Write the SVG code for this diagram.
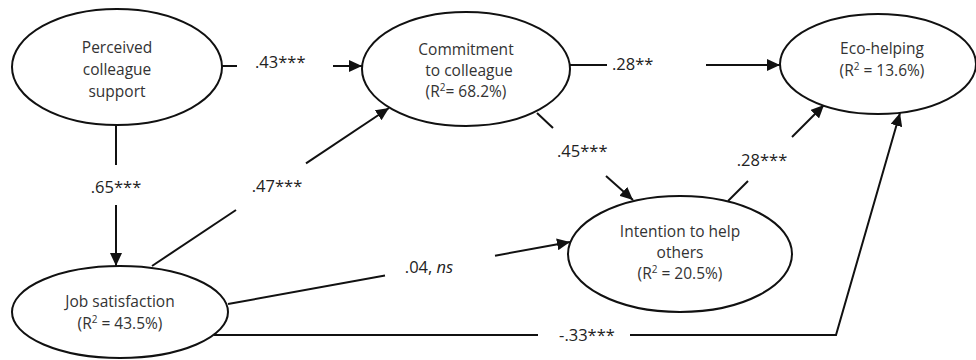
<svg xmlns="http://www.w3.org/2000/svg" width="976" height="360" viewBox="0 0 976 360">
<defs>
<marker id="arr" markerUnits="userSpaceOnUse" markerWidth="14" markerHeight="12" refX="13" refY="6" orient="auto">
<path d="M0,0 L13,6 L0,12 z" fill="#111"/>
</marker>
<style>
.node ellipse{fill:#fff;stroke:#111;stroke-width:2}
.node text{font-family:"Open Sans","Liberation Sans",sans-serif;font-size:15.5px;fill:#333;text-anchor:middle}
.sup{font-size:10px}
#edges line,#edges polyline{stroke:#111;stroke-width:2;fill:none}
.lbl{font-family:"Open Sans","Liberation Sans",sans-serif;font-size:16.5px;fill:#222}
</style>
</defs>
<rect width="976" height="360" fill="#fff"/>
<g id="edges">
<line x1="222" y1="66" x2="237" y2="66"/>
<line x1="333" y1="66" x2="362" y2="66" marker-end="url(#arr)"/>
<line x1="570" y1="65" x2="607" y2="65"/>
<line x1="706" y1="65" x2="780" y2="65" marker-end="url(#arr)"/>
<line x1="116" y1="126" x2="116" y2="165"/>
<line x1="116" y1="205" x2="116" y2="266" marker-end="url(#arr)"/>
<line x1="152" y1="266" x2="236" y2="210"/>
<line x1="306" y1="163.3" x2="389" y2="108" marker-end="url(#arr)"/>
<line x1="537" y1="113" x2="553" y2="128"/>
<line x1="606" y1="176" x2="633" y2="200" marker-end="url(#arr)"/>
<line x1="728" y1="201" x2="748" y2="181"/>
<line x1="792" y1="137" x2="824" y2="105" marker-end="url(#arr)"/>
<line x1="228" y1="304" x2="385" y2="275.6"/>
<line x1="495" y1="255.7" x2="570" y2="242" marker-end="url(#arr)"/>
<line x1="214" y1="335" x2="538" y2="335"/>
<polyline points="630,335 836,335 900,113" marker-end="url(#arr)"/>
<text class="lbl" x="255" y="68">.43***</text>
<text class="lbl" x="612" y="70">.28**</text>
<text class="lbl" x="116" y="193" text-anchor="middle">.65***</text>
<text class="lbl" x="277" y="192" text-anchor="middle">.47***</text>
<text class="lbl" x="557" y="157">.45***</text>
<text class="lbl" x="762" y="166" text-anchor="middle">.28***</text>
<text class="lbl" x="429" y="273" text-anchor="middle">.04, <tspan font-style="italic">ns</tspan></text>
<text class="lbl" x="587" y="341" text-anchor="middle">-.33***</text>
</g>
<g id="n1" class="node">
<ellipse cx="117" cy="67" rx="105" ry="58"/>
<text x="117" y="53">Perceived</text>
<text x="117" y="75">colleague</text>
<text x="117" y="97">support</text>
</g>
<g id="n2" class="node">
<ellipse cx="466" cy="69" rx="104" ry="57"/>
<text x="466" y="55">Commitment</text>
<text x="469" y="76">to colleague</text>
<text x="466" y="97">(R<tspan class="sup" dy="-6">2</tspan><tspan dy="6">= 68.2%)</tspan></text>
</g>
<g id="n3" class="node">
<ellipse cx="878" cy="64" rx="98" ry="50"/>
<text x="882" y="54">Eco-helping</text>
<text x="882" y="76">(R<tspan class="sup" dy="-6">2</tspan><tspan dy="6"> = 13.6%)</tspan></text>
</g>
<g id="n4" class="node">
<ellipse cx="680" cy="254" rx="112" ry="58"/>
<text x="680" y="237">Intention to help</text>
<text x="680" y="258">others</text>
<text x="680" y="279">(R<tspan class="sup" dy="-6">2</tspan><tspan dy="6"> = 20.5%)</tspan></text>
</g>
<g id="n5" class="node">
<ellipse cx="120" cy="312" rx="108" ry="46"/>
<text x="120" y="307">Job satisfaction</text>
<text x="120" y="329">(R<tspan class="sup" dy="-6">2</tspan><tspan dy="6"> = 43.5%)</tspan></text>
</g>
</svg>
